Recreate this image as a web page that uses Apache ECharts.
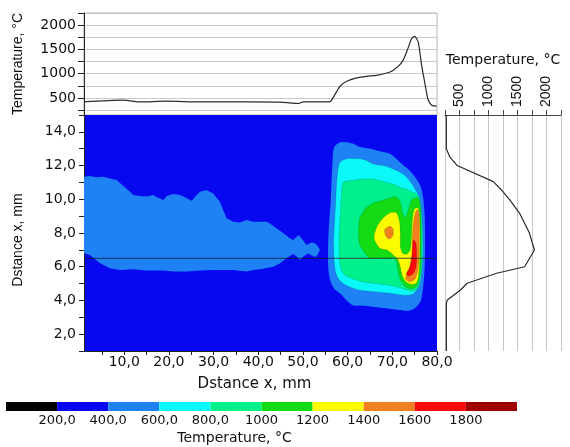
<!DOCTYPE html>
<html>
<head>
<meta charset="utf-8">
<script src="https://cdn.jsdelivr.net/npm/echarts@6/dist/echarts.min.js"></script>
<style>
html, body { margin: 0; padding: 0; background: #fff; }
#chart { width: 570px; height: 447px; }
</style>
</head>
<body>
<div id="chart"></div>
<script>
// top profile: temperature along x at y = 6.5 mm
const topX = [1.0, 9.8, 13.5, 19.5, 27.0, 38.1, 44.9, 47.1, 48.9, 50.1, 56.0, 56.4, 57.5, 58.3, 59.8, 62.0, 64.2, 66.5, 69.5, 71.3, 72.4, 73.6, 74.3, 75.0, 75.8, 76.5, 77.3, 78.0, 78.8, 79.9];
const topT = [420, 455, 420, 434, 420, 420, 415, 400, 387, 420, 420, 455, 625, 742, 845, 913, 947, 967, 1035, 1152, 1275, 1548, 1720, 1767, 1650, 1207, 797, 469, 352, 332];

// side profile: temperature across y
const sideY = [15.0, 13.0, 12.5, 12.0, 11.05, 10.55, 9.96, 9.17, 7.98, 6.99, 6.0, 5.61, 5.02, 4.62, 4.03, 3.83, 1.0];
const sideT = [273, 273, 335, 460, 1083, 1225, 1367, 1537, 1707, 1792, 1622, 1140, 631, 517, 290, 273, 273];

// colour scale
const levelEdges = [0, 200, 400, 600, 800, 1000, 1200, 1400, 1600, 1800, 2000];
const levelColors = ['#000000', '#0808F0', '#1E82F5', '#0AF8F8', '#00F08C', '#14DC14', '#FAFA00', '#F08020', '#FA0A0A', '#A00000'];

// tick values
const topTempTicks = [250, 500, 750, 1000, 1250, 1500, 1750, 2000, 2250];
const topTempLabels = [500, 1000, 1500, 2000];
const distTicks = [5, 10, 15, 20, 25, 30, 35, 40, 45, 50, 55, 60, 65, 70, 75, 80];
const distLabels = [10, 20, 30, 40, 50, 60, 70, 80];
const cutY = 6.5;

// isotherm regions (x mm, y mm)
const tail400 = [[1.0,11.34],[2.3,11.38],[3.8,11.3],[5.3,11.34],[6.8,11.24],[8.3,11.14],[9.8,10.79],[11.3,10.45],[12.0,10.26],[13.5,10.2],[15.0,10.16],[16.5,10.26],[17.3,10.12],[18.8,9.96],[19.5,10.2],[21.0,10.31],[22.5,10.26],[24.0,10.06],[25.1,9.92],[26.2,10.26],[27.0,10.45],[28.4,10.55],[29.9,10.35],[31.4,9.86],[32.9,8.87],[34.4,8.67],[35.9,8.63],[37.4,8.77],[38.9,8.67],[41.9,8.67],[42.6,8.57],[44.1,8.28],[45.6,7.98],[47.1,7.68],[47.8,7.59],[49.0,7.88],[49.7,7.68],[50.8,7.29],[51.9,7.43],[52.7,7.39],[53.4,7.19],[53.8,6.99],[53.05,6.6],[52.3,6.6],[51.2,6.8],[50.1,6.6],[49.3,6.4],[48.6,6.6],[47.8,6.76],[46.3,6.5],[44.9,6.2],[43.4,6.0],[40.4,5.85],[38.9,5.81],[37.4,5.71],[34.4,5.81],[29.9,5.81],[27.0,5.77],[24.0,5.71],[21.0,5.71],[18.8,5.77],[15.0,5.77],[12.0,5.85],[9.1,5.81],[6.8,5.91],[4.6,6.2],[2.3,6.7],[1.0,6.8]];
const hot400 = [[57.3,13.2],[58.6,13.4],[61.3,13.3],[62.8,13.1],[65.0,13.0],[66.5,12.9],[69.5,12.7],[71.7,12.2],[73.9,11.7],[75.4,11.2],[76.4,10.7],[76.9,10.1],[77.2,9.2],[77.3,8.2],[77.3,6.8],[77.2,5.8],[76.9,4.8],[76.4,4.0],[75.3,3.6],[73.9,3.4],[72.4,3.4],[69.5,3.5],[66.5,3.6],[62.8,3.7],[61.3,3.7],[59.8,4.0],[58.4,4.4],[57.0,4.7],[56.1,5.2],[55.7,5.8],[55.6,6.8],[55.7,7.8],[55.9,8.8],[56.2,9.8],[56.4,11.1],[56.6,12.1],[56.8,12.9]];
const hot600 = [[58.3,12.2],[59.8,12.4],[62.8,12.4],[64.2,12.3],[65.7,12.1],[68.0,12.0],[70.2,11.8],[72.4,11.5],[73.9,11.1],[75.1,10.6],[75.9,10.2],[76.5,9.2],[76.8,8.2],[76.9,6.8],[76.7,6.0],[76.3,5.2],[75.6,4.7],[74.7,4.4],[73.2,4.3],[70.2,4.4],[66.5,4.5],[62.8,4.6],[60.5,4.8],[59.0,5.0],[57.9,5.3],[57.2,5.8],[56.9,6.8],[56.9,7.8],[57.1,8.8],[57.3,9.7],[57.5,10.8],[57.8,11.7]];
const hot800 = [[59.0,11.0],[60.5,11.1],[63.5,11.2],[65.7,11.2],[67.2,11.1],[68.7,11.0],[70.2,10.9],[71.7,10.7],[73.2,10.6],[74.3,10.45],[75.3,10.35],[76.1,10.05],[76.5,9.3],[76.7,8.2],[76.7,6.8],[76.6,6.0],[76.3,5.2],[75.6,4.7],[74.4,4.55],[72.4,4.7],[70.2,4.85],[66.5,5.0],[63.5,5.1],[60.5,5.35],[59.0,5.6],[58.4,6.0],[58.1,6.8],[58.1,7.8],[58.3,8.8],[58.4,9.2],[58.6,10.2]];
const hot1000 = [[62.7,8.9],[64.2,9.5],[66.0,9.8],[68.0,9.95],[70.6,10.15],[71.7,9.9],[72.3,9.2],[72.9,8.9],[73.6,9.4],[74.3,9.95],[75.4,10.1],[76.0,9.95],[76.35,9.2],[76.45,8.2],[76.4,6.2],[76.1,5.4],[75.7,4.95],[75.0,4.75],[73.9,4.7],[72.6,4.9],[71.7,5.3],[71.2,5.9],[70.9,6.3],[70.5,6.5],[65.0,6.5],[63.9,6.8],[62.7,7.3],[62.4,8.0],[62.6,8.6]];
const hot1200 = [[65.9,7.7],[66.6,8.4],[68.0,8.9],[69.5,9.2],[70.9,9.2],[71.6,8.7],[71.8,7.9],[71.8,7.2],[72.3,6.8],[73.3,6.75],[74.0,7.0],[74.3,7.8],[74.5,8.8],[74.9,9.4],[75.6,9.5],[76.0,9.3],[76.2,8.2],[76.15,6.6],[75.9,5.5],[75.4,5.05],[74.4,4.95],[73.3,5.05],[72.5,5.3],[72.0,5.7],[71.7,6.1],[71.2,6.45],[70.2,6.7],[68.7,7.0],[67.2,7.1]];
const hot1400a = [[68.3,8.2],[69.5,8.4],[70.2,8.2],[70.05,7.8],[69.3,7.65],[68.6,7.8]];
const hot1400b = [[75.3,9.3],[75.8,9.35],[76.05,8.8],[76.05,7.6],[75.95,6.4],[75.65,5.7],[75.05,5.25],[73.9,5.1],[73.0,5.25],[73.2,5.6],[73.9,6.0],[74.4,6.8],[74.55,8.0],[74.85,8.8]];
const hot1600 = [[74.7,7.6],[75.3,7.4],[75.45,6.6],[75.3,6.0],[74.7,5.6],[73.6,5.45],[73.2,5.6],[73.8,5.9],[74.3,6.4],[74.5,7.0]];

const contours = [
    { points: tail400, level: 2, smooth: 0, edge: false },
    { points: hot400, level: 2, smooth: 0.3, edge: false },
    { points: hot600, level: 3, smooth: 0.3, edge: true },
    { points: hot800, level: 4, smooth: 0.3, edge: true },
    { points: hot1000, level: 5, smooth: 0.25, edge: true },
    { points: hot1200, level: 6, smooth: 0.25, edge: true },
    { points: hot1400a, level: 7, smooth: 0.3, edge: true },
    { points: hot1400b, level: 7, smooth: 0.25, edge: true },
    { points: hot1600, level: 8, smooth: 0.25, edge: true }
];

const decComma = v => v.toFixed(1).replace('.', ',');
const labelFont = { fontFamily: 'DejaVu Sans', fontSize: 14, color: '#111' };
const axisDark = { lineStyle: { color: '#222', width: 1 } };

let chart = echarts.init(document.getElementById('chart'));

let option = {
    animation: false,
    backgroundColor: '#fff',
    grid: [
        { left: 84, top: 13, width: 353, height: 102, show: true, borderColor: '#b4b4b4', borderWidth: 1 },
        { left: 84, top: 115, width: 353, height: 236, show: true, backgroundColor: levelColors[1], borderWidth: 0 },
        { left: 445, top: 115, width: 116, height: 236 },
        { left: 6, top: 402, width: 511, height: 9 }
    ],
    xAxis: [
        { gridIndex: 0, type: 'value', min: 1, max: 80, show: false },
        {
            gridIndex: 1, type: 'value', min: 1, max: 80,
            name: 'Dstance x, mm', nameLocation: 'middle', nameGap: 26,
            nameTextStyle: { fontFamily: 'DejaVu Sans', fontSize: 15, color: '#111', padding: [0, 12, 0, 0] },
            axisLine: axisDark,
            axisTick: { customValues: distTicks, length: 4, lineStyle: { color: '#222' } },
            axisLabel: Object.assign({ customValues: distLabels, margin: 4, formatter: decComma }, labelFont),
            splitLine: { show: false }
        },
        {
            gridIndex: 2, type: 'value', min: 250, max: 2250, interval: 250, position: 'top',
            name: 'Temperature, °C', nameLocation: 'middle', nameGap: 48,
            nameTextStyle: { fontFamily: 'DejaVu Sans', fontSize: 14, color: '#111' },
            axisLine: { lineStyle: { color: '#444' } },
            axisTick: { length: 5, lineStyle: { color: '#444' } },
            axisLabel: {
                rotate: -90, margin: 8, fontFamily: 'Liberation Sans', fontSize: 14, color: '#111',
                formatter: v => (v % 500 === 0 ? String(v) : '')
            },
            splitLine: { lineStyle: { color: '#c8c8c8' } }
        },
        {
            gridIndex: 3, type: 'value', min: 0, max: 2000, interval: 200,
            name: 'Temperature, °C', nameLocation: 'middle', nameGap: 20,
            nameTextStyle: { fontFamily: 'DejaVu Sans', fontSize: 14, color: '#111', padding: [0, 54, 0, 0] },
            axisLine: { show: false }, axisTick: { show: false }, splitLine: { show: false },
            axisLabel: {
                margin: 3, fontFamily: 'DejaVu Sans', fontSize: 13, color: '#111',
                formatter: v => (v <= 0 || v >= 2000 ? '' : (v < 1000 ? decComma(v) : String(v)))
            }
        }
    ],
    yAxis: [
        {
            gridIndex: 0, type: 'value', min: 150, max: 2250,
            name: 'Temperature, °C', nameLocation: 'middle', nameGap: 59,
            nameTextStyle: { fontFamily: 'Liberation Sans', fontSize: 14, color: '#111' },
            axisLine: { show: true, lineStyle: { color: '#222' } },
            axisTick: { show: true, customValues: topTempTicks, length: 6, lineStyle: { color: '#222' } },
            axisLabel: Object.assign({ customValues: topTempLabels, margin: 8, formatter: v => String(v) }, labelFont),
            splitLine: { show: true, lineStyle: { color: '#c8c8c8' } }
        },
        {
            gridIndex: 1, type: 'value', min: 1, max: 15, interval: 1,
            name: 'Dstance x, mm', nameLocation: 'middle', nameGap: 59,
            nameTextStyle: { fontFamily: 'Liberation Sans', fontSize: 14, color: '#111', padding: [0, 14, 0, 0] },
            axisLine: { show: true, lineStyle: { color: '#222' } },
            axisTick: { show: true, length: 5, lineStyle: { color: '#222' } },
            axisLabel: Object.assign({ margin: 8, formatter: v => (v % 2 === 0 ? decComma(v) : '') }, labelFont),
            splitLine: { show: false }
        },
        { gridIndex: 2, type: 'value', min: 1, max: 15, show: false },
        { gridIndex: 3, type: 'value', min: 0, max: 1, show: false }
    ],
    series: [
        {
            type: 'line', xAxisIndex: 0, yAxisIndex: 0,
            data: topX.map((x, i) => [x, topT[i]]),
            showSymbol: false, smooth: 0.25,
            lineStyle: { color: '#2a2a2a', width: 1.2 }
        },
        {
            type: 'custom', xAxisIndex: 1, yAxisIndex: 1, clip: true, silent: true,
            data: contours.map((c, i) => [i]),
            renderItem: function (params, api) {
                let c = contours[params.dataIndex];
                return {
                    type: 'polygon',
                    shape: { points: c.points.map(p => api.coord(p)), smooth: c.smooth },
                    style: {
                        fill: levelColors[c.level],
                        stroke: c.edge ? 'rgba(0,0,0,0.22)' : null,
                        lineWidth: c.edge ? 0.6 : 0
                    }
                };
            }
        },
        {
            type: 'line', xAxisIndex: 1, yAxisIndex: 1, silent: true,
            data: [[1, cutY], [80, cutY]],
            showSymbol: false,
            lineStyle: { color: 'rgba(20,20,40,0.75)', width: 1 }
        },
        {
            type: 'line', xAxisIndex: 2, yAxisIndex: 2,
            data: sideT.map((t, i) => [t, sideY[i]]),
            showSymbol: false,
            lineStyle: { color: '#2a2a2a', width: 1.2 }
        },
        {
            type: 'custom', xAxisIndex: 3, yAxisIndex: 3, silent: true,
            data: levelColors.map((c, i) => [levelEdges[i], levelEdges[i + 1], i]),
            encode: { x: [0, 1] },
            renderItem: function (params, api) {
                let p0 = api.coord([api.value(0), 1]);
                let p1 = api.coord([api.value(1), 0]);
                return {
                    type: 'rect',
                    shape: { x: p0[0], y: p0[1], width: p1[0] - p0[0], height: p1[1] - p0[1] },
                    style: { fill: levelColors[api.value(2)] }
                };
            }
        }
    ]
};
chart.setOption(option);
</script>
</body>
</html>
